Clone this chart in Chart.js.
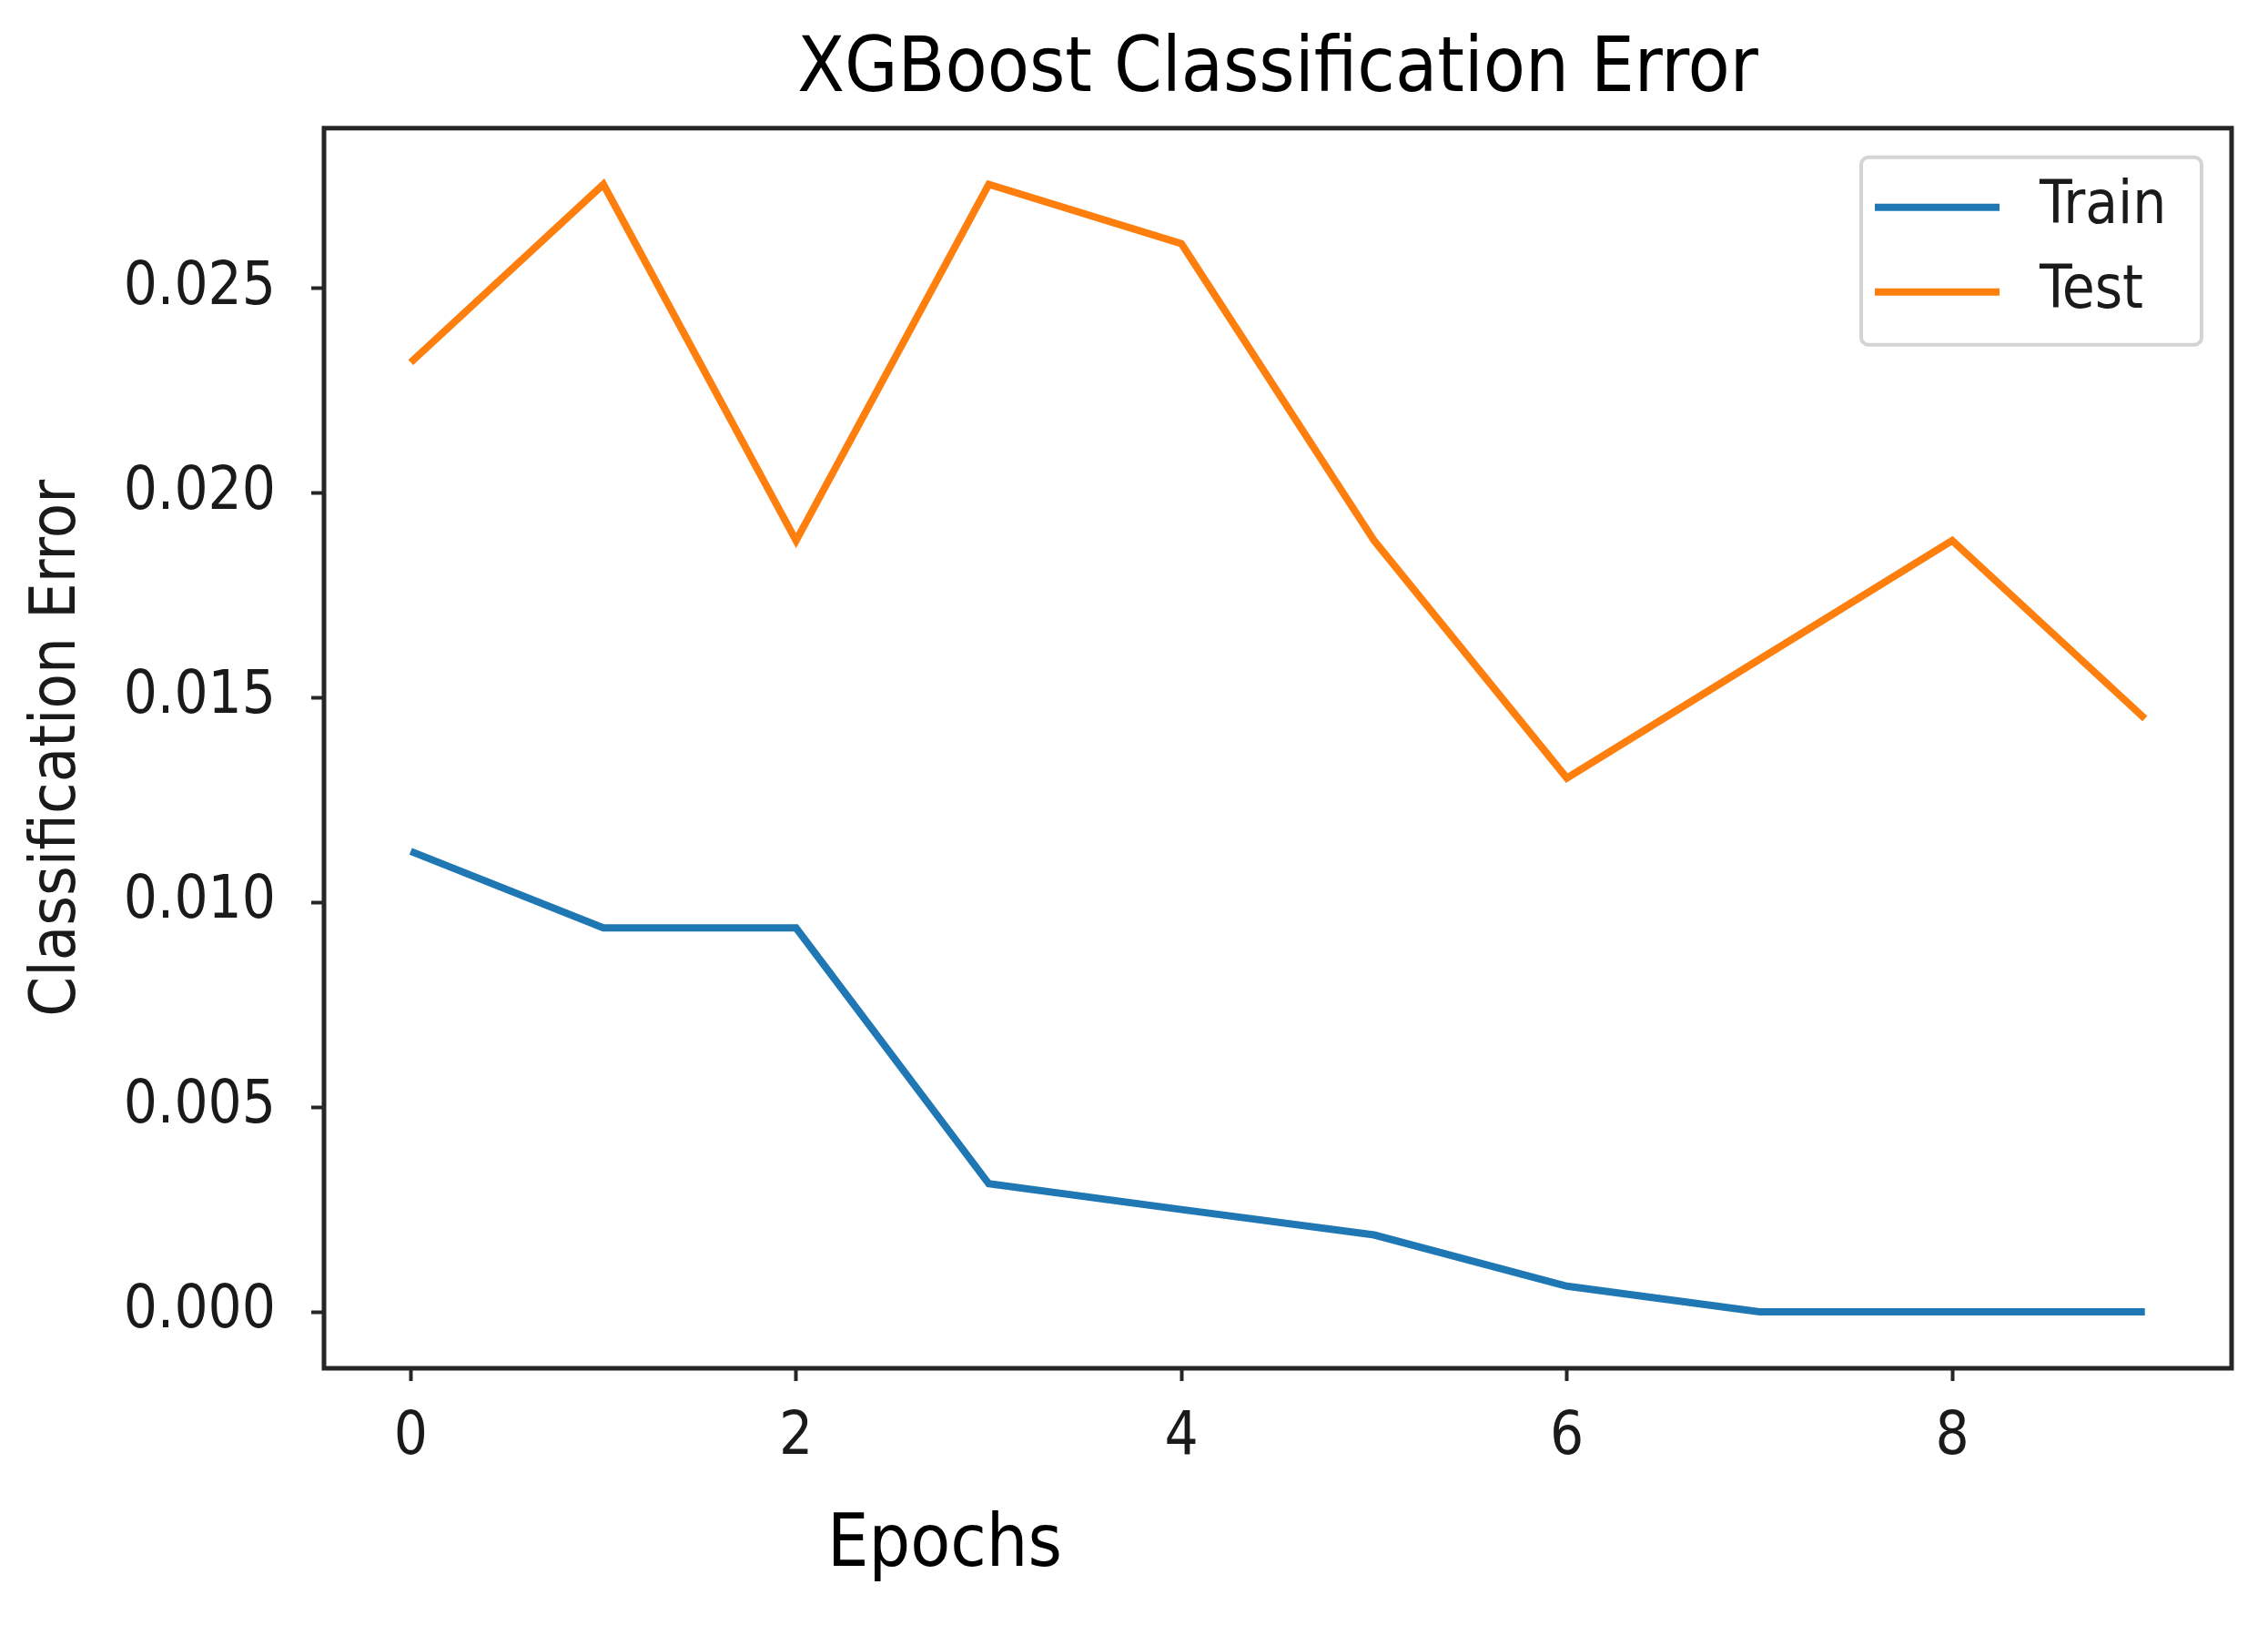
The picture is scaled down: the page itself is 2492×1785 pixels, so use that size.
<!DOCTYPE html>
<html>
<head>
<meta charset="utf-8">
<title>XGBoost Classification Error</title>
<script src="https://cdn.jsdelivr.net/npm/chart.js@4.4.1/dist/chart.umd.min.js"></script>
<style>
    body { margin: 0; background: #fff; }
    #chart { display: block; }
</style>
</head>
<body>
<canvas id="chart" width="2492" height="1785"></canvas>
<script>
const epochs = [0, 1, 2, 3, 4, 5, 6, 7, 8, 9];
const trainError = [0.01125, 0.00938, 0.00938, 0.00313, 0.0025, 0.00188, 0.00063, 0, 0, 0];
const testError = [0.02319, 0.02754, 0.01884, 0.02754, 0.02609, 0.01884, 0.01304, 0.01594, 0.01884, 0.01449];
const xTicks = [0, 2, 4, 6, 8];
const yTicks = [0, 0.005, 0.010, 0.015, 0.020, 0.025];

const fuente = "'DejaVu Sans Condensed', 'Liberation Sans', 'DejaVu Sans', sans-serif";
const colorEjes = '#262626';

function puntos(valores) {
    return epochs.map((e, i) => ({ x: e, y: valores[i] }));
}

// marco completo + leyenda dentro del area + etiqueta Epochs
const marcoYLeyenda = {
    id: 'marcoYLeyenda',
    afterDraw(chart) {
        const { ctx, chartArea: a } = chart;
        ctx.save();

        ctx.strokeStyle = colorEjes;
        ctx.lineWidth = 5;
        ctx.strokeRect(a.left, a.top, a.width, a.height);

        const w = 374, h = 206;
        const bx = a.right - 33 - w, by = a.top + 32;
        ctx.beginPath();
        ctx.roundRect(bx, by, w, h, 8);
        ctx.fillStyle = 'rgba(255,255,255,0.8)';
        ctx.fill();
        ctx.strokeStyle = '#d4d4d4';
        ctx.lineWidth = 4;
        ctx.stroke();

        ctx.font = '65px ' + fuente;
        ctx.textBaseline = 'middle';
        ctx.textAlign = 'left';
        chart.data.datasets.forEach((ds, i) => {
            const y = by + 55 + i * 93;
            ctx.beginPath();
            ctx.moveTo(bx + 15, y);
            ctx.lineTo(bx + 152, y);
            ctx.strokeStyle = ds.borderColor;
            ctx.lineWidth = 8;
            ctx.stroke();
            ctx.fillStyle = '#1a1a1a';
            ctx.fillText(ds.label, bx + 196, y);
        });

        ctx.font = '80px ' + fuente;
        ctx.textAlign = 'center';
        ctx.fillStyle = '#000';
        ctx.fillText('Epochs', a.left + 682, a.bottom + 196);
        ctx.restore();
    }
};

const chart = new Chart(document.getElementById('chart').getContext('2d'), {
    type: 'line',
    data: {
        datasets: [{
            label: 'Train',
            data: puntos(trainError),
            borderColor: '#1f77b4',
            borderWidth: 8,
            pointRadius: 0,
            tension: 0,
            fill: false
        }, {
            label: 'Test',
            data: puntos(testError),
            borderColor: '#ff7f0e',
            borderWidth: 8,
            pointRadius: 0,
            tension: 0,
            fill: false
        }]
    },
    options: {
        responsive: false,
        animation: false,
        layout: { padding: { left: 0, right: 40, top: 0, bottom: 0 } },
        plugins: {
            legend: { display: false },
            tooltip: { enabled: false },
            title: {
                display: true,
                fullSize: false,
                text: 'XGBoost Classification Error',
                color: '#000',
                font: { family: fuente, size: 84, weight: 'normal' },
                padding: { top: 28, bottom: 12 }
            }
        },
        scales: {
            x: {
                type: 'linear',
                min: -0.45,
                max: 9.45,
                afterBuildTicks: axis => { axis.ticks = xTicks.map(v => ({ value: v })); },
                afterFit: scale => { scale.height = 282; },
                ticks: {
                    color: '#1a1a1a',
                    font: { family: fuente, size: 65 },
                    padding: 24,
                    maxRotation: 0,
                    callback: v => String(v)
                },
                grid: {
                    drawOnChartArea: false,
                    drawTicks: true,
                    tickLength: 14,
                    tickWidth: 4,
                    tickColor: colorEjes
                },
                border: { display: false }
            },
            y: {
                type: 'linear',
                min: -0.0013768,
                max: 0.028913,
                afterBuildTicks: axis => { axis.ticks = yTicks.map(v => ({ value: v })); },
                afterFit: scale => { scale.width = 356; },
                ticks: {
                    color: '#1a1a1a',
                    font: { family: fuente, size: 65 },
                    padding: 39,
                    callback: v => v.toFixed(3)
                },
                grid: {
                    drawOnChartArea: false,
                    drawTicks: true,
                    tickLength: 14,
                    tickWidth: 4,
                    tickColor: colorEjes
                },
                border: { display: false },
                title: {
                    display: true,
                    text: 'Classification Error',
                    color: '#1a1a1a',
                    font: { family: fuente, size: 70 },
                    padding: { top: 22, bottom: 0 }
                }
            }
        }
    },
    plugins: [marcoYLeyenda]
});
</script>
</body>
</html>
